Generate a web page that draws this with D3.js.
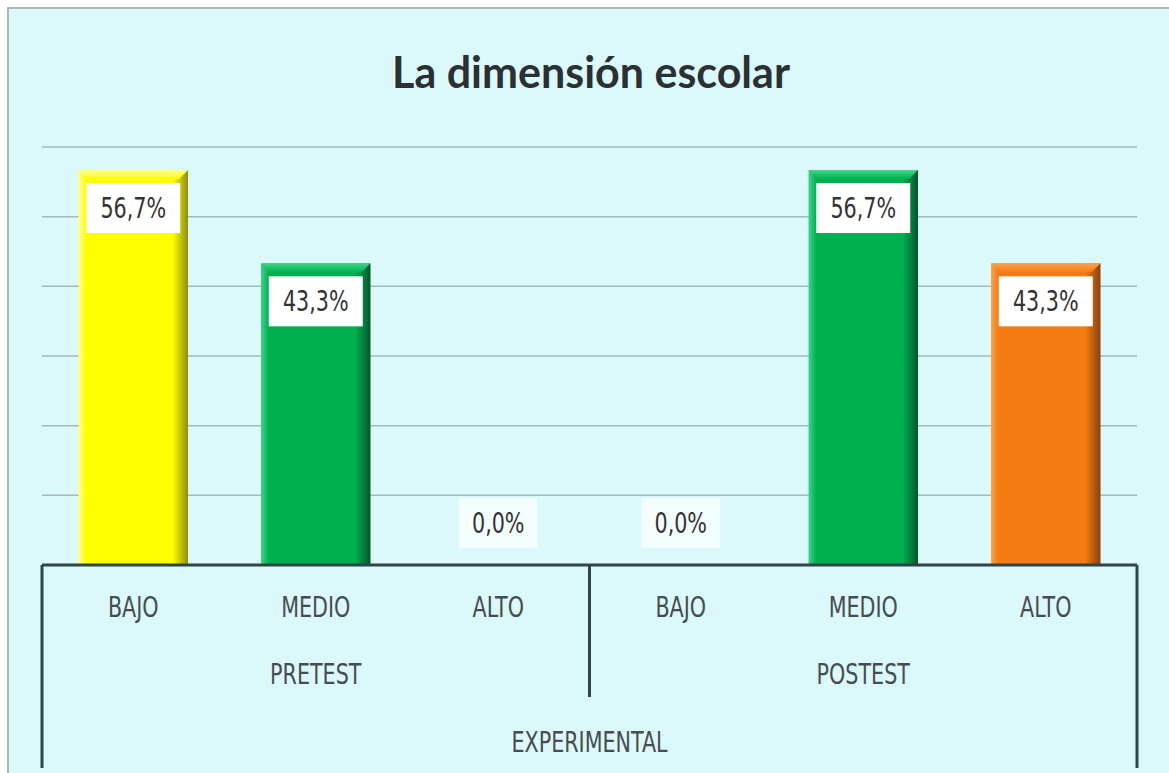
<!DOCTYPE html>
<html>
<head>
<meta charset="utf-8">
<script src="https://cdn.jsdelivr.net/npm/d3@7"></script>
<style>
body { margin: 0; background: #ffffff; }
</style>
</head>
<body>
<div id="chart"></div>
<script>
// data
var groups = ["PRETEST", "POSTEST"];
var levels = ["BAJO", "MEDIO", "ALTO"];
var pretest = [56.7, 43.3, 0.0];
var postest = [0.0, 56.7, 43.3];
var outerLabel = "EXPERIMENTAL";
var yTicks = [10, 20, 30, 40, 50, 60];

var W = 1169, H = 773;
var plot = {left: 42, right: 1137, top: 147, bottom: 565};

var svg = d3.select("#chart").append("svg")
    .attr("width", W).attr("height", H);

// chart background + border
svg.append("rect")
    .attr("x", 8).attr("y", 8).attr("width", W + 10).attr("height", H + 10)
    .attr("fill", "#dbf9fb").attr("stroke", "#aab8b0").attr("stroke-width", 2);

var rows = [];
groups.forEach(function(g, gi) {
  var vals = gi === 0 ? pretest : postest;
  levels.forEach(function(l, li) {
    rows.push({key: g + "-" + l, group: g, level: l, value: vals[li]});
  });
});

var x = d3.scaleBand()
    .domain(rows.map(function(d) { return d.key; }))
    .range([plot.left, plot.right])
    .paddingInner(0.4)
    .paddingOuter(0.2);

var y = d3.scaleLinear().domain([0, 60]).range([plot.bottom, plot.top]);

// colours per bar (base, light, dark)
var palette = {
  yellow: ["#ffff00", "#ffff90", "#8e8e10"],
  green:  ["#00b050", "#3fd588", "#02572c"],
  orange: ["#f47a12", "#ffa04a", "#8a420e"]
};
function colorKey(d) {
  if (d.level === "BAJO") return "yellow";
  if (d.level === "MEDIO") return "green";
  return "orange";
}

var defs = svg.append("defs");
Object.keys(palette).forEach(function(k) {
  var c = palette[k];
  var gh = defs.append("linearGradient").attr("id", "h-" + k)
      .attr("x1", "0").attr("x2", "1").attr("y1", "0").attr("y2", "0");
  gh.append("stop").attr("offset", "0").attr("stop-color", c[1]);
  gh.append("stop").attr("offset", "0.07").attr("stop-color", c[0]);
  gh.append("stop").attr("offset", "0.86").attr("stop-color", c[0]);
  gh.append("stop").attr("offset", "1").attr("stop-color", c[2]);
  var gv = defs.append("linearGradient").attr("id", "v-" + k)
      .attr("x1", "0").attr("x2", "0").attr("y1", "0").attr("y2", "1");
  gv.append("stop").attr("offset", "0").attr("stop-color", c[1]);
  gv.append("stop").attr("offset", "1").attr("stop-color", c[0]);
});

// gridlines
svg.append("g").selectAll("line")
  .data(yTicks).enter().append("line")
    .attr("x1", plot.left).attr("x2", plot.right)
    .attr("y1", function(d) { return y(d); })
    .attr("y2", function(d) { return y(d); })
    .attr("stroke", "#a3b9ba").attr("stroke-width", 1.5);

// title
svg.append("text")
    .attr("x", 591).attr("y", 88)
    .attr("text-anchor", "middle")
    .style("font-family", "Lato, 'Open Sans', sans-serif")
    .style("font-weight", "bold")
    .style("font-size", "43px")
    .attr("fill", "#2b3032")
    .text("La dimensión escolar");

// bars
var bars = svg.append("g").selectAll("g.bar")
  .data(rows.filter(function(d) { return d.value > 0; }))
  .enter().append("g").attr("class", "bar");

bars.append("rect")
    .attr("x", function(d) { return x(d.key); })
    .attr("y", function(d) { return y(d.value); })
    .attr("width", x.bandwidth())
    .attr("height", function(d) { return y(0) - y(d.value); })
    .attr("fill", function(d) { return "url(#h-" + colorKey(d) + ")"; });

// top bevel
bars.append("path")
    .attr("d", function(d) {
      var x0 = x(d.key), x1 = x0 + x.bandwidth(), t = y(d.value), b = 9;
      return "M" + x0 + "," + t + "L" + x1 + "," + t + "L" + (x1 - b) + "," + (t + b) +
             "L" + (x0 + b) + "," + (t + b) + "Z";
    })
    .attr("fill", function(d) { return "url(#v-" + colorKey(d) + ")"; });

// data labels
var lab = svg.append("g").selectAll("g.lab")
  .data(rows).enter().append("g").attr("class", "lab");

lab.each(function(d) {
  var g = d3.select(this);
  var cx = x(d.key) + x.bandwidth() / 2;
  var top = d.value > 0 ? y(d.value) + 13 : y(0) - 67;
  var txt = d3.format(".1f")(d.value).replace(".", ",") + "%";
  var bw = d.value > 0 ? 94 : 78;
  g.append("rect")
      .attr("x", cx - bw / 2).attr("y", top)
      .attr("width", bw).attr("height", 50)
      .attr("fill", d.value > 0 ? "#ffffff" : "#f4fdfd");
  g.append("text")
      .attr("x", cx).attr("y", top + 25)
      .attr("text-anchor", "middle")
      .attr("dominant-baseline", "central")
      .attr("transform", "translate(0," + (top + 25) + ") scale(1,1.25) translate(0," + (-(top + 25)) + ")")
      .style("font-family", "'Liberation Sans Narrow', 'DejaVu Sans Condensed', sans-serif")
      .style("font-size", "23px")
      .attr("fill", "#333333")
      .text(txt);
});

// axis line
var axisColor = "#2f4446";
svg.append("line")
    .attr("x1", plot.left).attr("x2", plot.right)
    .attr("y1", y(0)).attr("y2", y(0))
    .attr("stroke", axisColor).attr("stroke-width", 3);

// group dividers
var groupEdges = [plot.left, (plot.left + plot.right) / 2, plot.right];
svg.append("g").selectAll("line")
  .data(groupEdges).enter().append("line")
    .attr("x1", function(d) { return d; }).attr("x2", function(d) { return d; })
    .attr("y1", y(0))
    .attr("y2", function(d, i) { return i === 1 ? 697 : 768; })
    .attr("stroke", axisColor).attr("stroke-width", 3);

function labelText(sel) {
  return sel.attr("text-anchor", "middle")
    .style("font-family", "'Liberation Sans Narrow', 'DejaVu Sans Condensed', sans-serif")
    .style("font-size", "23px")
    .attr("fill", "#474c4e");
}

// category labels
svg.append("g").selectAll("text")
  .data(rows).enter().append("text")
    .attr("x", function(d) { return x(d.key) + x.bandwidth() / 2; })
    .attr("y", 0)
    .attr("transform", "translate(0,617) scale(1,1.2)")
    .call(labelText)
    .text(function(d) { return d.level; });

// group labels
svg.append("g").selectAll("text")
  .data(groups).enter().append("text")
    .attr("x", function(d) {
      var ks = rows.filter(function(r) { return r.group === d; });
      return (x(ks[0].key) + x(ks[2].key) + x.bandwidth()) / 2;
    })
    .attr("y", 0)
    .attr("transform", "translate(0,684) scale(1,1.2)")
    .call(labelText)
    .text(function(d) { return d; });

svg.append("text")
    .attr("x", (plot.left + plot.right) / 2)
    .attr("y", 0)
    .attr("transform", "translate(0,752) scale(1,1.2)")
    .call(labelText)
    .text(outerLabel);
</script>
</body>
</html>
